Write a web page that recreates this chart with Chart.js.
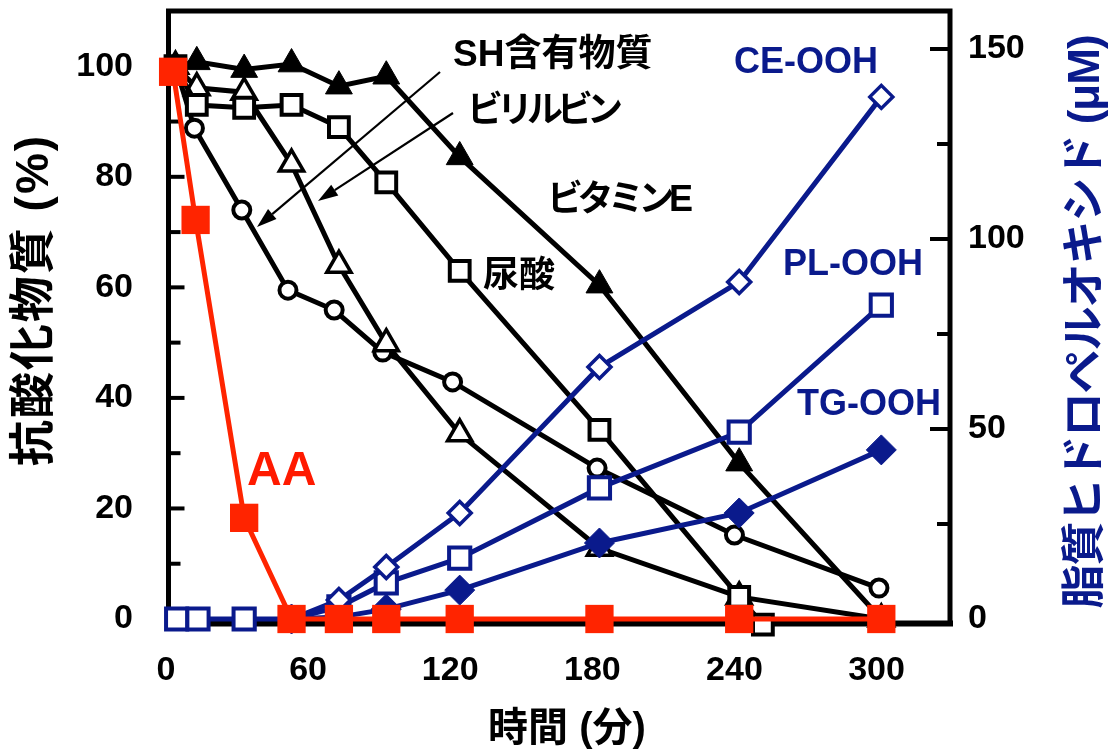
<!DOCTYPE html>
<html>
<head>
<meta charset="utf-8">
<script src="https://cdn.jsdelivr.net/npm/chart.js@4.4.1/dist/chart.umd.min.js"></script>
<style>
  html, body { margin: 0; padding: 0; background: #fff; }
  canvas { display: block; }
</style>
</head>
<body>
<canvas id="c" width="1117" height="753"></canvas>
<script>
// 時間 (分) for each series
const tAA    = [3, 12.5, 33, 53, 73, 93, 124, 183, 242, 302];
const tVitE  = [4, 13, 33, 53, 73, 93, 124, 183, 242, 302];
const tBili  = [4, 13, 33, 53, 73, 93, 124, 183, 242, 302];
const tUric  = [4, 13, 33, 53, 73, 93, 124, 183, 242, 252];
const tSH    = [4, 12, 32, 51.5, 71, 91.5, 121, 182, 240, 301];
const tPL    = [4.5, 13.5, 33, 53, 73, 93, 124, 183, 242, 302];
const tCETG  = [53, 73, 93, 124, 183, 242, 302];

// 抗酸化物質 (%)
const aa   = [99, 72.2, 18.3, 0, 0, 0, 0, 0, 0, 0];
const vitE = [100, 100.8, 99.4, 100.4, 96.4, 98.2, 83.6, 60.4, 28.2, 0];
const bili = [100, 96.1, 95.3, 82.3, 64, 49.8, 33.5, 12.8, 4, 0];
const uric = [100, 93, 92.5, 93, 89, 79, 63, 34.2, 4, -1];
const sh   = [100, 88.8, 74, 59.5, 55.9, 48.3, 42.9, 27.3, 15.2, 5.6];

// 脂質ヒドロペルオキシド (μM)
const ceOOH = [0, 5, 13.7, 27.9, 66.3, 88.7, 137.4];
const plOOH = [0, 0, 0, 0, 3.2, 9.5, 16, 34.5, 49.2, 82.6];
const tgOOH = [0, 0.5, 2.6, 7.6, 20, 27.9, 44.5];

// tick labels
const xTicks     = [0, 60, 120, 180, 240, 300];
const leftTicks  = [0, 20, 40, 60, 80, 100];
const rightTicks = [0, 50, 100, 150];

const NAVY = '#0a1a8c';
const RED  = '#ff2400';
const NUM_FONT = '"Liberation Sans", Arial, sans-serif';
const JP_FONT  = '"Liberation Sans", Arial, "Noto Sans CJK JP", sans-serif';

const pts = (xs, ys) => xs.map((x, i) => ({ x, y: ys[i] }));

function blackSeries(label, xs, ys, style, order) {
  return Object.assign({
    label, data: pts(xs, ys), yAxisID: 'y', order,
    borderColor: '#000', borderWidth: 5,
    pointBorderColor: '#000', pointBorderWidth: 4,
    pointBackgroundColor: '#fff', clip: false
  }, style);
}
function navySeries(label, xs, ys, style, order) {
  return Object.assign({
    label, data: pts(xs, ys), yAxisID: 'y2', order,
    borderColor: NAVY, borderWidth: 5,
    pointBorderColor: NAVY, pointBorderWidth: 3.5,
    pointBackgroundColor: '#fff', clip: false
  }, style);
}

const datasets = [
  { label: 'AA', data: pts(tAA, aa), yAxisID: 'y', order: 0,
    borderColor: RED, borderWidth: 5, pointStyle: 'rect', pointRadius: 20,
    pointBackgroundColor: RED, pointBorderColor: RED, pointBorderWidth: 0, clip: false },
  navySeries('CE-OOH', tCETG, ceOOH, { pointStyle: 'rectRot', pointRadius: 11.5 }, 1),
  navySeries('PL-OOH', tPL, plOOH, { pointStyle: 'rect', pointRadius: 15, pointBorderWidth: 4 }, 2),
  navySeries('TG-OOH', tCETG, tgOOH, { pointStyle: 'rectRot', pointRadius: 15, pointBackgroundColor: NAVY, pointBorderWidth: 1 }, 3),
  blackSeries('ビタミンE', tVitE, vitE, { pointStyle: 'triangle', pointRadius: 15.5, pointBackgroundColor: '#000', pointBorderWidth: 1 }, 4),
  blackSeries('尿酸', tUric, uric, { pointStyle: 'rect', pointRadius: 14 }, 5),
  blackSeries('ビリルビン', tBili, bili, { pointStyle: 'triangle', pointRadius: 14, pointBorderWidth: 3.5 }, 6),
  blackSeries('SH含有物質', tSH, sh, { pointStyle: 'circle', pointRadius: 8.5 }, 7)
];

// frame, inward tick marks, titles and annotations
const decorations = {
  id: 'decorations',
  beforeDatasetsDraw(chart) {
    const { ctx, chartArea: a, scales } = chart;
    const L = a.left + 2.5, R = a.right, T = a.top, B = a.bottom + 4.5;
    ctx.save();
    ctx.strokeStyle = '#000';
    ctx.lineWidth = 5;
    ctx.lineCap = 'square';
    ctx.beginPath();
    ctx.moveTo(L, B); ctx.lineTo(L, T); ctx.lineTo(R, T); ctx.lineTo(R, B);
    ctx.stroke();
    ctx.lineWidth = 6;
    ctx.beginPath(); ctx.moveTo(L, B); ctx.lineTo(R, B); ctx.stroke();

    ctx.lineCap = 'butt';
    ctx.lineWidth = 4;
    const tick = (x0, x1, y) => { ctx.beginPath(); ctx.moveTo(x0, y); ctx.lineTo(x1, y); ctx.stroke(); };
    leftTicks.forEach((v, i) => {
      if (v > 0) tick(L, L + 16, scales.y.getPixelForValue(v));
      if (i > 0) tick(L, L + 12, scales.y.getPixelForValue((v + leftTicks[i - 1]) / 2));
    });
    rightTicks.forEach((v, i) => {
      if (v > 0) tick(R, R - 20, scales.y2.getPixelForValue(v));
      if (i > 0) tick(R, R - 13, scales.y2.getPixelForValue((v + rightTicks[i - 1]) / 2));
    });
    ctx.restore();
  },
  afterDatasetsDraw(chart) {
    const { ctx } = chart;
    ctx.save();

    const text = (s, x, y, color, size, align = 'left', spacing = 0) => {
      ctx.save();
      ctx.translate(x, y);
      ctx.fillStyle = color;
      ctx.font = `bold ${size}px ${JP_FONT}`;
      ctx.textAlign = align;
      ctx.textBaseline = 'middle';
      ctx.letterSpacing = spacing + 'px';
      ctx.fillText(s, 0, 0);
      ctx.restore();
    };

    // axis titles
    text('時間 (分)', 567, 730, '#000', 40, 'center');
    ctx.save();
    ctx.translate(35, 300); ctx.rotate(-Math.PI / 2);
    text('抗酸化物質 (%)', 0, 0, '#000', 46, 'center', 2);
    ctx.restore();
    ctx.save();
    ctx.translate(1087, 322); ctx.rotate(-Math.PI / 2);
    text('脂質ヒドロペルオキシド (μM)', 0, 0, NAVY, 44, 'center', -1);
    ctx.restore();

    // series labels
    text('SH含有物質', 453, 56, '#000', 37);
    text('ビリルビン', 467, 112, '#000', 36, 'left', -6);
    text('ビタミンE', 547, 201, '#000', 36, 'left', -5.5);
    text('尿酸', 483, 277, '#000', 36);
    text('AA', 247, 472, '#ff1a00', 48);
    text('CE-OOH', 734, 63, NAVY, 36);
    text('PL-OOH', 783, 265, NAVY, 36);
    text('TG-OOH', 797, 405, NAVY, 36);

    // leader arrows
    const arrow = (x0, y0, x1, y1) => {
      const ang = Math.atan2(y1 - y0, x1 - x0);
      const len = 20, half = 6.5;
      const bx = x1 - Math.cos(ang) * len, by = y1 - Math.sin(ang) * len;
      ctx.strokeStyle = '#000'; ctx.fillStyle = '#000'; ctx.lineWidth = 2.2;
      ctx.beginPath(); ctx.moveTo(x0, y0); ctx.lineTo(bx, by); ctx.stroke();
      ctx.beginPath();
      ctx.moveTo(x1, y1);
      ctx.lineTo(bx + Math.sin(ang) * half, by - Math.cos(ang) * half);
      ctx.lineTo(bx - Math.sin(ang) * half, by + Math.cos(ang) * half);
      ctx.closePath(); ctx.fill();
    };
    arrow(440, 72, 257, 227);
    arrow(453, 113, 318, 201);
    ctx.restore();
  }
};

const tickFont = { family: NUM_FONT, size: 34, weight: 'bold' };
const noPad = s => { s.paddingTop = 0; s.paddingBottom = 0; s.paddingLeft = 0; s.paddingRight = 0; };

new Chart(document.getElementById('c'), {
  type: 'line',
  data: { datasets },
  plugins: [decorations],
  options: {
    responsive: false,
    devicePixelRatio: 1,
    animation: false,
    events: [],
    layout: { autoPadding: false, padding: { top: 11, left: 0, right: 0, bottom: 0 } },
    plugins: { legend: { display: false }, tooltip: { enabled: false } },
    scales: {
      x: {
        type: 'linear', min: 0, max: 331,
        grid: { display: false, drawTicks: false }, border: { display: false },
        afterBuildTicks: s => { s.ticks = xTicks.map(v => ({ value: v })); },
        ticks: { color: '#000', font: tickFont, padding: 31, maxRotation: 0 },
        afterFit: s => { s.height = 134; noPad(s); }
      },
      y: {
        position: 'left', min: 0, max: 110,
        grid: { display: false, drawTicks: false }, border: { display: false },
        afterBuildTicks: s => { s.ticks = leftTicks.map(v => ({ value: v })); },
        ticks: { color: '#000', font: tickFont, padding: 33 },
        afterFit: s => { s.width = 166; noPad(s); }
      },
      y2: {
        position: 'right', min: 0, max: 160,
        grid: { display: false, drawTicks: false }, border: { display: false },
        afterBuildTicks: s => { s.ticks = rightTicks.map(v => ({ value: v })); },
        ticks: { color: '#000', font: tickFont, padding: 18 },
        afterFit: s => { s.width = 167; noPad(s); }
      }
    }
  }
});
</script>
</body>
</html>
